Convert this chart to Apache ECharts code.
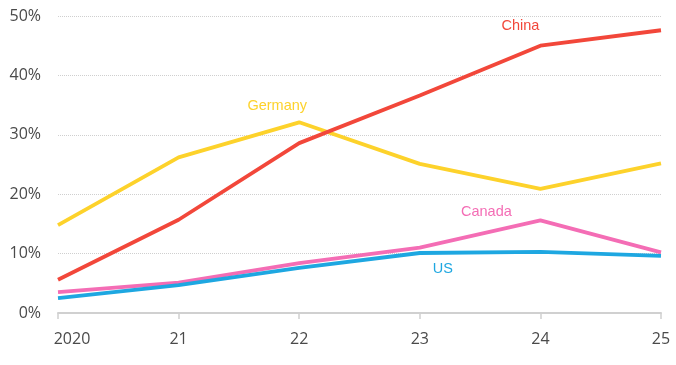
<!DOCTYPE html>
<html><head><meta charset="utf-8">
<script src="https://cdn.jsdelivr.net/npm/echarts@6/dist/echarts.min.js"></script>
<style>html,body{margin:0;padding:0;background:#fff}#c{width:676px;height:365px}</style>
</head><body><div id="c"></div>
<script>
const categories = ['2020', '21', '22', '23', '24', '25'];
const china = [5.6, 15.7, 28.6, 36.6, 45.0, 47.6];
const germany = [14.8, 26.2, 32.1, 25.1, 20.9, 25.2];
const canada = [3.5, 5.1, 8.4, 11.0, 15.6, 10.2];
const us = [2.5, 4.7, 7.6, 10.1, 10.3, 9.6];
const yTicks = [0, 10, 20, 30, 40, 50];

function mk(name, values, color, labelIdx, offset) {
  return {
    name: name, type: 'line', symbol: 'circle', symbolSize: 0, showSymbol: true, showAllSymbol: true,
    lineStyle: { color: color, width: 3.8 },
    itemStyle: { color: color },
    label: { show: false },
    emphasis: { disabled: true },
    data: values.map((v, i) => i === labelIdx ? {
      value: v,
      label: { show: true, formatter: name, color: color, fontSize: 14.5,
        fontFamily: 'Liberation Sans', offset: offset, position: 'inside' }
    } : v)
  };
}

const chart = echarts.init(document.getElementById('c'), null, { renderer: 'canvas' });
chart.setOption({
  animation: false,
  grid: { left: 58, right: 15, top: 16, bottom: 52 },
  xAxis: {
    type: 'category', data: categories, boundaryGap: false,
    axisLine: { lineStyle: { color: '#d0d0d0', width: 2 } },
    axisTick: { show: true, length: 6, lineStyle: { color: '#d0d0d0', width: 1.5 } },
    axisLabel: {
      color: '#4a4a4a', fontSize: 16, fontFamily: 'Open Sans', margin: 18,
      formatter: v => v === '2020' ? '{first|' + v + '}' : v,
      rich: { first: { padding: [0, 0, 0, 28], color: '#4a4a4a', fontSize: 16, fontFamily: 'Open Sans' } }
    }
  },
  yAxis: {
    type: 'value', min: yTicks[0], max: yTicks[yTicks.length - 1], interval: 10,
    axisLine: { show: false }, axisTick: { show: false },
    axisLabel: { color: '#4a4a4a', fontSize: 16, fontFamily: 'Open Sans', margin: 17, formatter: '{value}%' },
    splitLine: { show: true, lineStyle: { color: '#cfcfcf', type: 'dotted', width: 1 } }
  },
  series: [
    mk('Germany', germany, '#fdd22b', 2, [-22, -16]),
    mk('Canada', canada, '#f46db5', 4, [-54, -8]),
    mk('US', us, '#1ea7e1', 3, [23, 16]),
    mk('China', china, '#f2473a', 4, [-20, -20])
  ]
});
</script></body></html>
